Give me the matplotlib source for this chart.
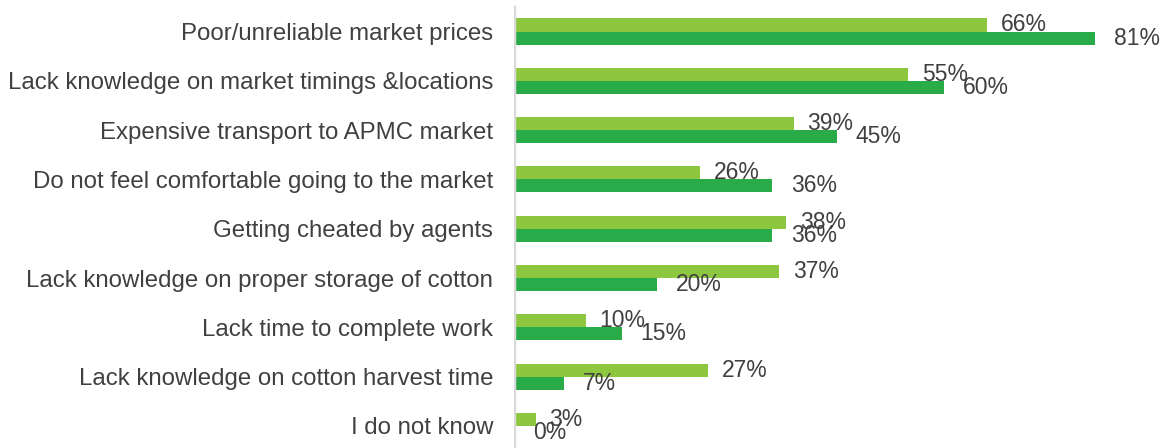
import matplotlib.pyplot as plt
import numpy as np

categories = [
    "Poor/unreliable market prices",
    "Lack knowledge on market timings &locations",
    "Expensive transport to APMC market",
    "Do not feel comfortable going to the market",
    "Getting cheated by agents",
    "Lack knowledge on proper storage of cotton",
    "Lack time to complete work",
    "Lack knowledge on cotton harvest time",
    "I do not know",
]
light_vals = [66, 55, 39, 26, 38, 37, 10, 27, 3]
dark_vals = [81, 60, 45, 36, 36, 20, 15, 7, 0]

light = "#8DC63F"
dark = "#2AAB4A"
txt = "#404040"

plt.rcParams['font.family'] = ['Liberation Sans', 'DejaVu Sans']

fig = plt.figure(figsize=(11.65, 4.48), dpi=100)
ax = fig.add_axes([514 / 1165, 0, 1 - 514 / 1165, 1])

y = np.arange(len(categories))
h = 0.264
ax.barh(y - h / 2, light_vals, height=h, color=light)
ax.barh(y + h / 2, dark_vals, height=h, color=dark)

for yi, v in zip(y - h / 2, light_vals):
    ax.annotate(f"{v}%", (v, yi), xytext=(10, 0), textcoords="offset points",
                va="center", ha="left", fontsize=16.5, color=txt)
for yi, v in zip(y + h / 2, dark_vals):
    ax.annotate(f"{v}%", (v, yi), xytext=(13.5, 0), textcoords="offset points",
                va="center", ha="left", fontsize=16.5, color=txt)

ax.set_xlim(0, (1165 - 514) / 7.17)
ax.set_ylim((448 - 31.5) / 49.3, -31.5 / 49.3)
ax.set_yticks(y)
ax.set_yticklabels(categories, fontsize=17.3, color=txt)
ax.tick_params(axis="y", length=0, pad=15)
ax.set_xticks([])
for s in ax.spines.values():
    s.set_visible(False)
ax.axvline(0, ymin=0, ymax=1 - 7 / 448, color="#D9D9D9", lw=2.5)

fig.savefig("out.png", dpi=100)
